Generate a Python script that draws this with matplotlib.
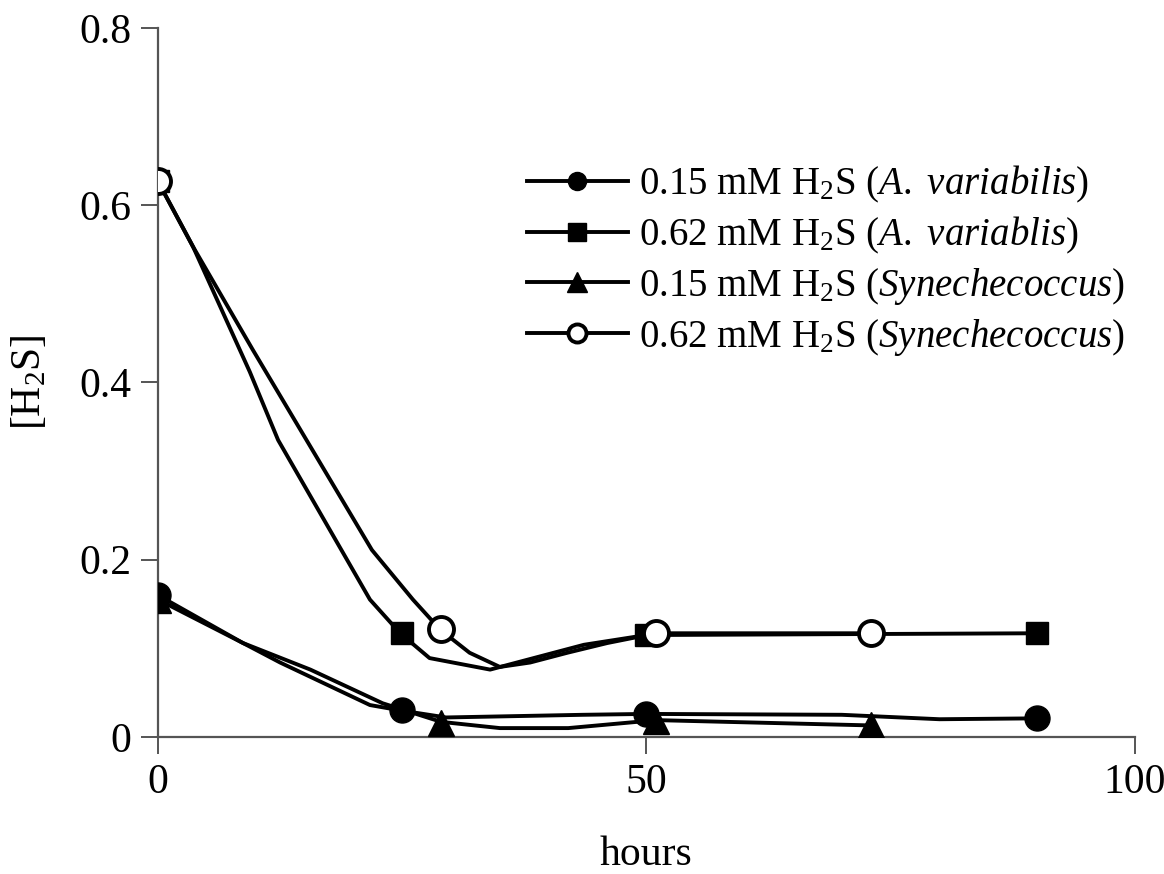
import numpy as np
import matplotlib.pyplot as plt

plt.rcParams['font.family'] = ['Liberation Serif', 'DejaVu Serif']
plt.rcParams['mathtext.fontset'] = 'custom'
plt.rcParams['mathtext.rm'] = 'Liberation Serif'
plt.rcParams['mathtext.it'] = 'Liberation Serif:italic'

# measured points (hours, [H2S] mM)
av015_x = [0, 25, 50, 90]
av015_y = [0.160, 0.030, 0.026, 0.021]
av062_x = [0, 25, 50, 90]
av062_y = [0.627, 0.117, 0.115, 0.117]
syn015_x = [0, 29, 51, 73]
syn015_y = [0.155, 0.016, 0.018, 0.013]
syn062_x = [0, 29, 51, 73]
syn062_y = [0.627, 0.122, 0.117, 0.117]

# smoothed connecting curves
av015_cx = [0, 8.7, 12.5, 21.7, 24.8, 29.5, 43.5, 50, 70, 80, 90]
av015_cy = [0.160, 0.106, 0.084, 0.036, 0.030, 0.022, 0.025, 0.026, 0.025, 0.020, 0.021]
syn015_cx = [0, 8.7, 15.6, 23, 29, 35, 42, 51, 73]
syn015_cy = [0.155, 0.106, 0.076, 0.038, 0.017, 0.010, 0.010, 0.019, 0.013]
av062_cx = [0, 3.6, 9.4, 12.3, 21.7, 24.8, 27.8, 34, 43.6, 50, 90]
av062_cy = [0.627, 0.553, 0.412, 0.335, 0.155, 0.117, 0.089, 0.076, 0.104, 0.115, 0.117]
syn062_cx = [0, 3.6, 9.7, 21.9, 26.1, 28.9, 31.9, 35, 38.1, 41.9, 46, 51, 73]
syn062_cy = [0.627, 0.553, 0.437, 0.211, 0.155, 0.121, 0.095, 0.079, 0.084, 0.095, 0.106, 0.117, 0.117]

labels = [r'0.15 mM H$_2$S ($\mathit{A.\ variabilis}$)',
          r'0.62 mM H$_2$S ($\mathit{A.\ variablis}$)',
          r'0.15 mM H$_2$S ($\mathit{Synechecoccus}$)',
          r'0.62 mM H$_2$S ($\mathit{Synechecoccus}$)']

fig = plt.figure(figsize=(11.64, 8.74), dpi=100)
ax = fig.add_axes([0.1357, 0.1568, 0.8393, 0.8112])

lw = 2.8
ax.plot(av015_cx, av015_cy, color='black', lw=lw)
ax.plot(syn015_cx, syn015_cy, color='black', lw=lw)
ax.plot(av062_cx, av062_cy, color='black', lw=lw)
ax.plot(syn062_cx, syn062_cy, color='black', lw=lw)

ax.plot(av062_x, av062_y, 's', color='black', ms=16, zorder=3)
ax.plot(av015_x, av015_y, 'o', color='black', ms=18, zorder=3)
ax.plot(syn015_x, syn015_y, '^', color='black', ms=19, zorder=4)
ax.plot(syn062_x, syn062_y, 'o', mfc='white', mec='black', mew=2.8, ms=18, zorder=5)

# legend handles: line with marker
h1, = ax.plot([], [], '-o', color='black', lw=lw, ms=13)
h2, = ax.plot([], [], '-s', color='black', lw=lw, ms=13)
h3, = ax.plot([], [], '-^', color='black', lw=lw, ms=15)
h4, = ax.plot([], [], '-o', color='black', mfc='white', mew=2.8, lw=lw, ms=13)
fig.legend([h1, h2, h3, h4], labels, loc='upper left',
           bbox_to_anchor=(0.439, 0.83), frameon=False, fontsize=28,
           handlelength=2.6, handletextpad=0.3, labelspacing=0.25,
           borderaxespad=0)

ax.set_xlim(0, 100)
ax.set_ylim(0, 0.8)
ax.set_xticks([0, 50, 100])
ax.set_xticklabels(['0', '50', '100'])
ax.set_yticks([0, 0.2, 0.4, 0.6, 0.8])
ax.set_yticklabels(['0', '0.2', '0.4', '0.6', '0.8'])
for s in ['top', 'right']:
    ax.spines[s].set_visible(False)
for s in ['left', 'bottom']:
    ax.spines[s].set_color('#555555')
    ax.spines[s].set_linewidth(1.6)
ax.tick_params(direction='out', length=12, width=1.4, color='#555555',
               labelsize=30, pad=7)
ax.set_xlabel('hours', fontsize=30, labelpad=24)
ax.set_ylabel('[H$_2$S]', fontsize=30, labelpad=22)

fig.savefig('out.png', dpi=100)
